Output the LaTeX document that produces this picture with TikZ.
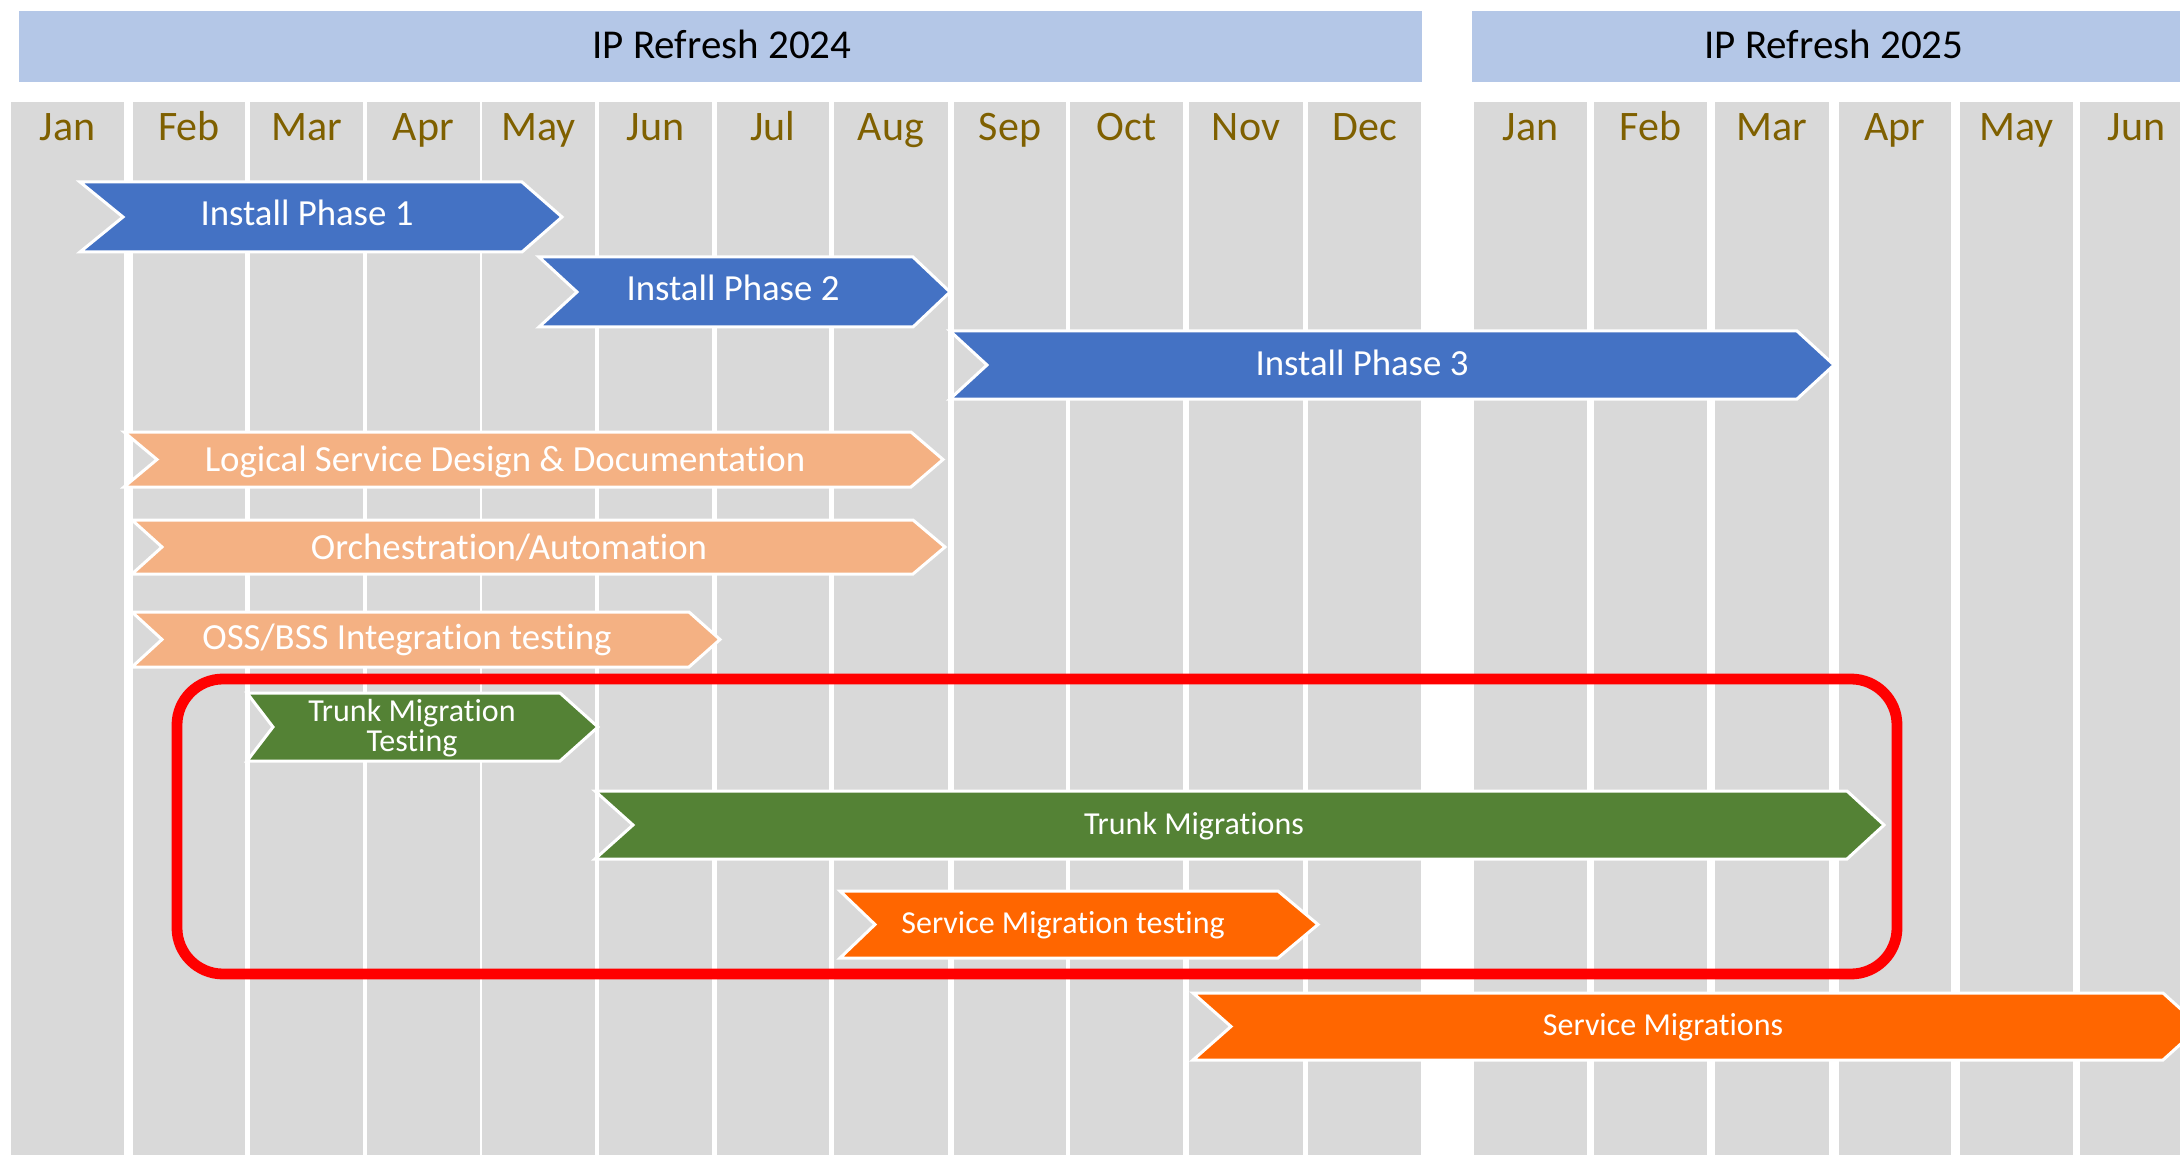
\documentclass[tikz,border=0pt]{standalone}
\usepackage{fontspec}
\setmainfont{Carlito}[Ligatures={NoCommon}]
\definecolor{bannerblue}{HTML}{B4C7E7}
\definecolor{colgray}{HTML}{D9D9D9}
\definecolor{monthgold}{HTML}{7F6000}
\definecolor{barblue}{HTML}{4472C4}
\definecolor{barpeach}{HTML}{F4B183}
\definecolor{bargreen}{HTML}{548235}
\definecolor{barorange}{HTML}{FF6600}
\definecolor{boxred}{HTML}{FF0000}
\newcommand\chevbar[7]{%
  \filldraw[fill=#7,draw=white,line width=1.5pt,line join=miter]
    (#1,#5) -- (#3,#5) -- (#4,{(#5+#6)/2}) -- (#3,#6) -- (#1,#6) -- (#2,{(#5+#6)/2}) -- cycle;}
\begin{document}
\begin{tikzpicture}[x=0.5pt,y=-0.5pt,
  hdr/.style={font=\fontsize{20.5}{24}\selectfont,text=black,inner sep=0pt,anchor=base},
  month/.style={font=\fontsize{21}{24}\selectfont,text=monthgold,inner sep=0pt,anchor=base},
  bartext/.style={font=\fontsize{18.4}{22}\selectfont,text=white,inner sep=0pt,anchor=base},
  smalltext/.style={font=\fontsize{16}{15}\selectfont,text=white,inner sep=0pt,anchor=base},
  redbox/.style={draw=boxred,line width=5.4pt,rounded corners=23pt}]
\useasboundingbox (0,0) rectangle (2180,1155);
\clip (0,0) rectangle (2180,1155);
\fill[white] (0,0) rectangle (2180,1155);
% banners
\fill[bannerblue] (19,11) rectangle (1422,82);
\fill[bannerblue] (1472,11) rectangle (2200,82);
\node[hdr] (h24) at (722,59) {IP Refresh 2024};
\node[hdr] (h25) at (1834,59) {IP Refresh 2025};
% month columns
\foreach \a/\b/\m/\n in {11/124/Jan/ma,133/245/Feb/mb,250/363/Mar/mc,367/480/Apr/md,
  482/595/May/me,599/712/Jun/mf,717/829/Jul/mg,834/948/Aug/mh,954/1066/Sep/mi,
  1070/1183/Oct/mj,1189/1303/Nov/mk,1308/1421/Dec/ml,
  1474/1587/Jan/na,1594/1707/Feb/nb,1715/1829/Mar/nc,1839/1951/Apr/nd,
  1960/2073/May/ne,2080/2193/Jun/nf}{
  \fill[colgray] (\a,102) rectangle (\b,1155);
  \node[month] (\n) at ({(\a+\b)/2},141) {\m};
}
% bars
\chevbar{80}{123}{522}{562}{182}{252}{barblue}
\node[bartext] (ip1) at (307,226) {Install Phase 1};
\chevbar{539}{577}{913}{950}{257}{327}{barblue}
\node[bartext] (ip2) at (733,301) {Install Phase 2};
\chevbar{950}{987}{1797}{1834}{331}{399}{barblue}
\node[bartext] (ip3) at (1362,375) {Install Phase 3};
\chevbar{124}{157}{911}{943}{432}{487}{barpeach}
\node[bartext] (lsd) at (505,471) {Logical Service Design \& Documentation};
\chevbar{132}{162}{913}{945}{520}{574}{barpeach}
\node[bartext] (orch) at (509,559) {Orchestration/Automation};
\chevbar{132}{162}{689}{720}{612}{667}{barpeach}
\node[bartext] (oss) at (407,649) {OSS/BSS Integration testing};
% red box
\draw[redbox] (177,679) rectangle (1897,974);
\chevbar{247}{273}{560}{598}{693}{761}{bargreen}
\node[smalltext] (tmt1) at (412,721) {Trunk Migration};
\node[smalltext] (tmt2) at (412,751) {Testing};
\chevbar{595}{633}{1847}{1884}{791}{859}{bargreen}
\node[smalltext] (tm) at (1194,834) {Trunk Migrations};
\chevbar{840}{875}{1278}{1318}{891}{958}{barorange}
\node[smalltext] (smt) at (1063,933) {Service Migration testing};
\chevbar{1193}{1231}{2163}{2200}{993}{1060}{barorange}
\node[smalltext] (sm) at (1663,1035) {Service Migrations};
\end{tikzpicture}
\end{document}
